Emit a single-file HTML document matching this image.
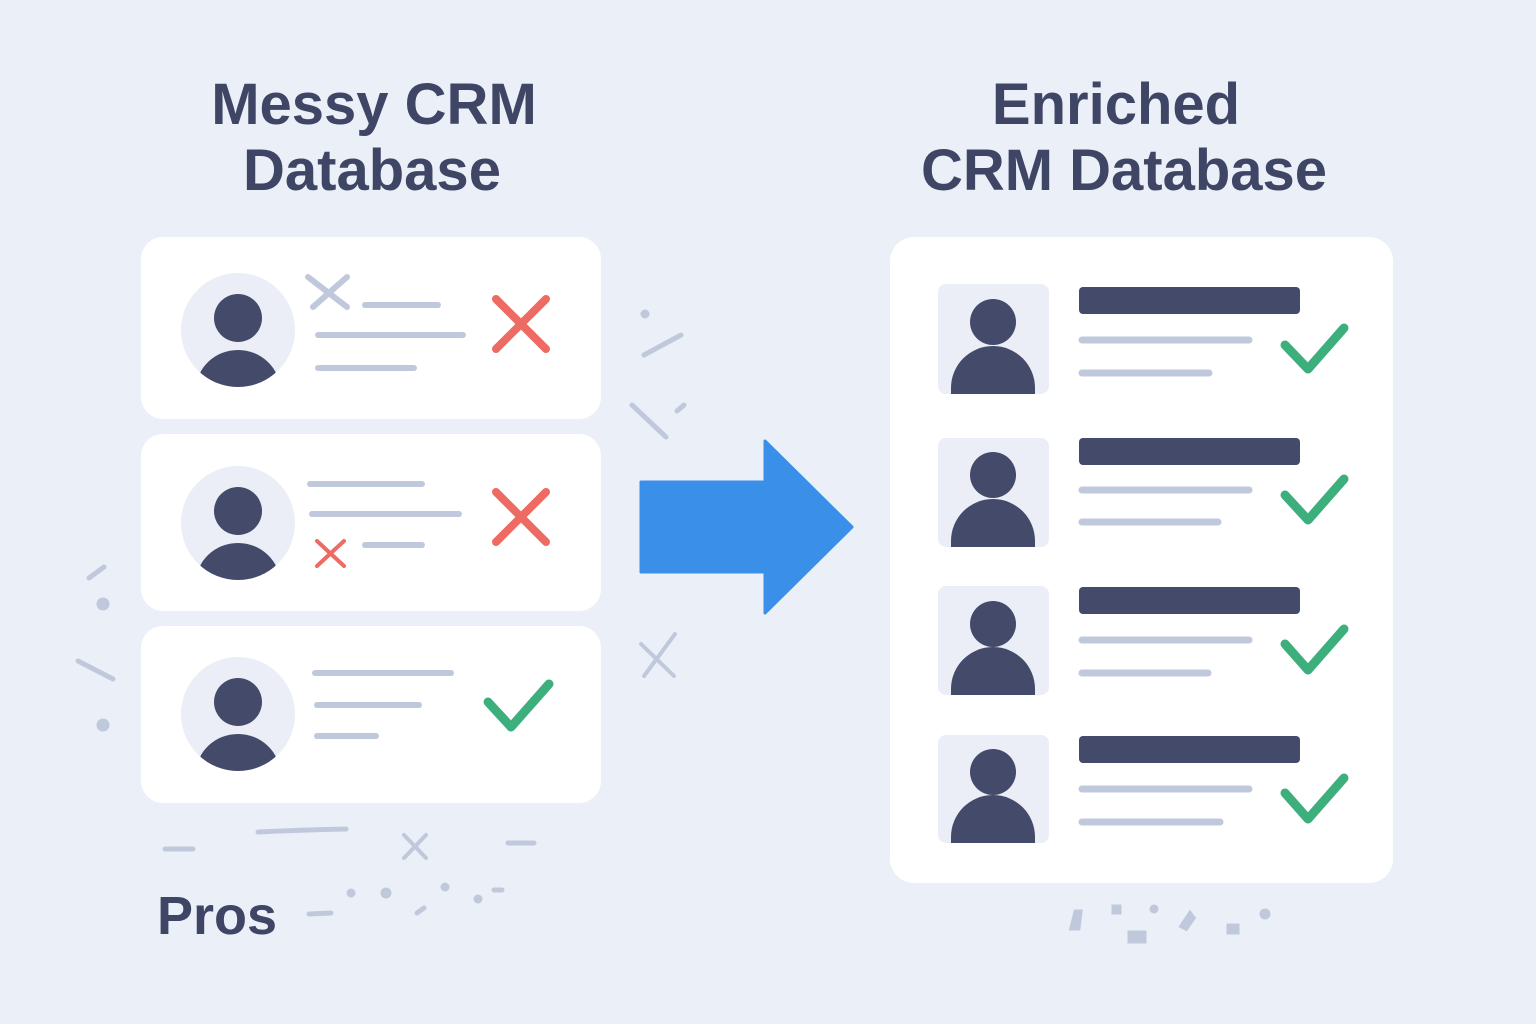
<!DOCTYPE html>
<html><head><meta charset="utf-8"><style>
html,body{margin:0;padding:0;background:#ebeff7;}
svg{display:block}
text{font-family:"Liberation Sans",sans-serif;font-weight:bold;fill:#3f4565}
</style></head><body>
<svg width="1536" height="1024" viewBox="0 0 1536 1024" xmlns="http://www.w3.org/2000/svg">
<rect width="1536" height="1024" fill="#ebeff7"/>
<text x="374" y="124" font-size="58" text-anchor="middle">Messy CRM</text>
<text x="372" y="190" font-size="58" text-anchor="middle">Database</text>
<text x="1116" y="124" font-size="58" text-anchor="middle">Enriched</text>
<text x="1124" y="190" font-size="58" text-anchor="middle">CRM Database</text>
<text x="217" y="934" font-size="54" text-anchor="middle">Pros</text>

<!-- left cards -->
<g fill="#ffffff">
<rect x="141" y="237" width="460" height="182" rx="22"/>
<rect x="141" y="434" width="460" height="177" rx="22"/>
<rect x="141" y="626" width="460" height="177" rx="22"/>
<rect x="890" y="237" width="503" height="646" rx="24"/>
</g>
<defs>
<clipPath id="c1"><circle cx="238" cy="330" r="57"/></clipPath>
<clipPath id="c2"><circle cx="238" cy="523" r="57"/></clipPath>
<clipPath id="c3"><circle cx="238" cy="714" r="57"/></clipPath>
</defs>
<g fill="#ebeef6">
<circle cx="238" cy="330" r="57"/><circle cx="238" cy="523" r="57"/><circle cx="238" cy="714" r="57"/>
</g>
<g fill="#434a6a">
<circle cx="238" cy="318" r="24"/><ellipse cx="238" cy="390" rx="42" ry="40" clip-path="url(#c1)"/>
<circle cx="238" cy="511" r="24"/><ellipse cx="238" cy="583" rx="42" ry="40" clip-path="url(#c2)"/>
<circle cx="238" cy="702" r="24"/><ellipse cx="238" cy="774" rx="42" ry="40" clip-path="url(#c3)"/>
</g>
<g stroke="#c0c9dc" stroke-width="6" stroke-linecap="round" fill="none">
<line x1="365" y1="305" x2="438" y2="305"/><line x1="318" y1="335" x2="463" y2="335"/><line x1="318" y1="368" x2="414" y2="368"/>
<line x1="308" y1="277" x2="347" y2="307"/><line x1="347" y1="277" x2="313" y2="307"/>
<line x1="310" y1="484" x2="422" y2="484"/><line x1="312" y1="514" x2="459" y2="514"/><line x1="365" y1="545" x2="422" y2="545"/>
<line x1="315" y1="673" x2="451" y2="673"/><line x1="317" y1="705" x2="419" y2="705"/><line x1="317" y1="736" x2="376" y2="736"/>
</g>
<g stroke="#ee6b63" stroke-width="8" stroke-linecap="round">
<line x1="496" y1="299" x2="546" y2="349"/><line x1="546" y1="299" x2="496" y2="349"/>
<line x1="496" y1="492" x2="546" y2="542"/><line x1="546" y1="492" x2="496" y2="542"/>
<line x1="317" y1="541" x2="344" y2="566" stroke-width="4"/><line x1="344" y1="541" x2="317" y2="566" stroke-width="4"/>
</g>
<g stroke="#3daf7d" stroke-width="9" stroke-linecap="round" stroke-linejoin="round" fill="none">
<polyline points="488,702 511,727 549,684"/>
<polyline points="1285,345 1308,369 1344,328"/>
<polyline points="1285,495 1308,520 1344,479"/>
<polyline points="1285,644 1308,670 1344,629"/>
<polyline points="1285,793 1308,819 1344,778"/>
</g>
<!-- arrow -->
<path d="M641,482 H765 V441 L852,527 L765,613 V572 H641 Z" fill="#3a8fe8" stroke="#3a8fe8" stroke-width="3" stroke-linejoin="round"/>

<!-- right rows -->
<g>
<g transform="translate(0,0)">
<rect x="938" y="284" width="111" height="110" rx="8" fill="#ebeef6"/>
</g>
<rect x="938" y="438" width="111" height="109" rx="8" fill="#ebeef6"/>
<rect x="938" y="586" width="111" height="109" rx="8" fill="#ebeef6"/>
<rect x="938" y="735" width="111" height="108" rx="8" fill="#ebeef6"/>
</g>
<g fill="#434a6a">
<circle cx="993" cy="322" r="23"/><path d="M951,394 V388 A42,42 0 0 1 1035,388 V394 Z"/>
<circle cx="993" cy="475" r="23"/><path d="M951,547 V541 A42,42 0 0 1 1035,541 V547 Z"/>
<circle cx="993" cy="624" r="23"/><path d="M951,695 V689 A42,42 0 0 1 1035,689 V695 Z"/>
<circle cx="993" cy="772" r="23"/><path d="M951,843 V837 A42,42 0 0 1 1035,837 V843 Z"/>
<rect x="1079" y="287" width="221" height="27" rx="4"/>
<rect x="1079" y="438" width="221" height="27" rx="4"/>
<rect x="1079" y="587" width="221" height="27" rx="4"/>
<rect x="1079" y="736" width="221" height="27" rx="4"/>
</g>
<g stroke="#c0c9dc" stroke-width="7" stroke-linecap="round">
<line x1="1082" y1="340" x2="1249" y2="340"/><line x1="1082" y1="373" x2="1209" y2="373"/>
<line x1="1082" y1="490" x2="1249" y2="490"/><line x1="1082" y1="522" x2="1218" y2="522"/>
<line x1="1082" y1="640" x2="1249" y2="640"/><line x1="1082" y1="673" x2="1208" y2="673"/>
<line x1="1082" y1="789" x2="1249" y2="789"/><line x1="1082" y1="822" x2="1220" y2="822"/>
</g>
<!-- debris -->
<g stroke="#c0c9dc" stroke-width="5" stroke-linecap="round" fill="#c0c9dc">
<line x1="644" y1="355" x2="681" y2="335"/><line x1="632" y1="405" x2="666" y2="437"/><line x1="677" y1="411" x2="684" y2="405"/>
<circle cx="645" cy="314" r="2"/>
<line x1="641" y1="644" x2="674" y2="676" stroke-width="4"/><line x1="675" y1="634" x2="644" y2="676" stroke-width="4"/>
<line x1="89" y1="578" x2="104" y2="567"/><circle cx="103" cy="604" r="4"/><line x1="78" y1="661" x2="113" y2="679"/><circle cx="103" cy="725" r="4"/>
<line x1="165" y1="849" x2="193" y2="849"/><path d="M258,832 Q300,830 346,829" fill="none"/>
<line x1="404" y1="835" x2="426" y2="858" stroke-width="4"/><line x1="426" y1="835" x2="404" y2="858" stroke-width="4"/>
<line x1="508" y1="843" x2="534" y2="843"/>
<line x1="309" y1="914" x2="331" y2="913"/><circle cx="351" cy="893" r="2"/><circle cx="386" cy="893" r="3"/>
<line x1="417" y1="913" x2="424" y2="908"/><circle cx="445" cy="887" r="2"/><circle cx="478" cy="899" r="2"/><line x1="494" y1="890" x2="502" y2="890"/>
<path d="M1072,928 L1076,912 L1080,912 L1078,928 Z"/><rect x="1114" y="907" width="5" height="5"/><rect x="1130" y="933" width="14" height="8"/>
<circle cx="1154" cy="909" r="2"/><path d="M1182,926 L1190,914 L1193,918 L1186,928 Z"/><rect x="1229" y="926" width="8" height="6"/><circle cx="1265" cy="914" r="3"/>
</g>
</svg>
</body></html>
